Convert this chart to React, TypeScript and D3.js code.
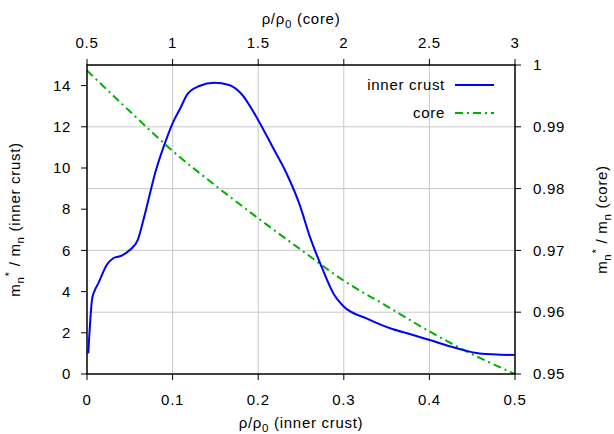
import React from "react";
import * as d3 from "d3";

const crustRho = [0.0015, 0.006, 0.009, 0.0132, 0.023, 0.0307, 0.0405, 0.05, 0.0592, 0.0669, 0.0806, 0.0903, 0.1, 0.109, 0.1175, 0.1312, 0.1486, 0.166, 0.1797, 0.201, 0.2167, 0.2322, 0.2486, 0.2603, 0.274, 0.2877, 0.2993, 0.3265, 0.3576, 0.377, 0.4003, 0.4352, 0.4586, 0.5];
const crustMass = [1.0, 3.65, 4.05, 4.4, 5.29, 5.62, 5.75, 6.02, 6.5, 7.64, 9.9, 11.12, 12.17, 12.9, 13.6, 13.98, 14.14, 14.03, 13.63, 12.25, 11.03, 9.82, 8.2, 6.67, 5.21, 3.92, 3.3, 2.7, 2.17, 1.94, 1.65, 1.21, 1.0, 0.92];

const coreRho = [0.5, 0.75, 1.0, 1.25, 1.5, 1.75, 2.0, 2.25, 2.5, 2.75, 3.0];
const coreMass = [0.9991, 0.9925, 0.9861, 0.9805, 0.9752, 0.9701, 0.9651, 0.961, 0.9569, 0.9532, 0.95];

const bottomTicks = [0, 0.1, 0.2, 0.3, 0.4, 0.5];
const topTicks = [0.5, 1, 1.5, 2, 2.5, 3];
const leftTicks = [0, 2, 4, 6, 8, 10, 12, 14];
const rightTicks = [0.95, 0.96, 0.97, 0.98, 0.99, 1];

const W = 614;
const H = 434;
const L = 87;
const R = 515;
const T = 65;
const B = 374;
const FONT = "'Liberation Sans', Arial, Helvetica, sans-serif";

export default function App() {
  const x = d3.scaleLinear().domain([0, 0.5]).range([L, R]);
  const x2 = d3.scaleLinear().domain([0.5, 3]).range([L, R]);
  const y = d3.scaleLinear().domain([0, 15]).range([B, T]);
  const y2 = d3.scaleLinear().domain([0.95, 1]).range([B, T]);

  const crustData = crustRho.map((r, i) => [r, crustMass[i]] as [number, number]);
  const coreData = coreRho.map((r, i) => [r, coreMass[i]] as [number, number]);

  const crustLine = d3
    .line<[number, number]>()
    .x((d) => x(d[0]))
    .y((d) => y(d[1]))
    .curve(d3.curveMonotoneX);
  const coreLine = d3
    .line<[number, number]>()
    .x((d) => x2(d[0]))
    .y((d) => y2(d[1]))
    .curve(d3.curveMonotoneX);

  const fmt = (v: number) => String(v);
  const fs = 15;
  const ls = 0.7;
  const sub = 11.5;

  return (
    <svg
      width={W}
      height={H}
      style={{ position: "absolute", left: 0, top: 0, background: "#fff" }}
      fontFamily={FONT}
      fontSize={fs}
      letterSpacing={ls}
    >
      <rect x={0} y={0} width={W} height={H} fill="#fff" />
      {/* grid */}
      <g stroke="#c8c8c8" strokeWidth={1}>
        {topTicks.slice(1, -1).map((t) => (
          <line key={"gx" + t} x1={x2(t)} x2={x2(t)} y1={T} y2={B} />
        ))}
        {rightTicks.slice(1, -1).map((t) => (
          <line key={"gy" + t} x1={L} x2={R} y1={y2(t)} y2={y2(t)} />
        ))}
      </g>
      {/* ticks */}
      <g stroke="#000" strokeWidth={1}>
        {bottomTicks.map((t) => (
          <line key={"bt" + t} x1={x(t)} x2={x(t)} y1={B} y2={B + 6} />
        ))}
        {topTicks.map((t) => (
          <line key={"tt" + t} x1={x2(t)} x2={x2(t)} y1={T} y2={T - 6} />
        ))}
        {leftTicks.map((t) => (
          <line key={"lt" + t} x1={L} x2={L - 6} y1={y(t)} y2={y(t)} />
        ))}
        {rightTicks.map((t) => (
          <line key={"rt" + t} x1={R} x2={R + 6} y1={y2(t)} y2={y2(t)} />
        ))}
      </g>
      {/* data */}
      <path d={coreLine(coreData) || ""} fill="none" stroke="#00b000" strokeWidth={2} strokeDasharray="8,4,2,4" />
      <path d={crustLine(crustData) || ""} fill="none" stroke="#0000ff" strokeWidth={2} />
      {/* border */}
      <rect x={L} y={T} width={R - L} height={B - T} fill="none" stroke="#000" strokeWidth={1.5} />
      {/* tick labels */}
      <g fill="#000">
        {bottomTicks.map((t) => (
          <text key={"bl" + t} x={x(t)} y={400} textAnchor="middle" dy="0.35em">
            {fmt(t)}
          </text>
        ))}
        {topTicks.map((t) => (
          <text key={"tl" + t} x={x2(t)} y={43} textAnchor="middle" dy="0.35em">
            {fmt(t)}
          </text>
        ))}
        {leftTicks.map((t) => (
          <text key={"ll" + t} x={71} y={y(t)} textAnchor="end" dy="0.35em">
            {fmt(t)}
          </text>
        ))}
        {rightTicks.map((t) => (
          <text key={"rl" + t} x={533} y={y2(t)} textAnchor="start" dy="0.35em">
            {fmt(t)}
          </text>
        ))}
      </g>
      {/* axis titles */}
      <text x={(L + R) / 2} y={428} textAnchor="middle">
        ρ/ρ<tspan dy={4} fontSize={sub}>0</tspan>
        <tspan dy={-4}> (inner crust)</tspan>
      </text>
      <text x={(L + R) / 2} y={24} textAnchor="middle">
        ρ/ρ<tspan dy={4} fontSize={sub}>0</tspan>
        <tspan dy={-4}> (core)</tspan>
      </text>
      <text transform={`translate(20,${(T + B) / 2}) rotate(-90)`} textAnchor="middle">
        m<tspan dy={4} fontSize={sub}>n</tspan>
        <tspan dy={-11} fontSize={sub}>*</tspan>
        <tspan dy={7}> / m</tspan>
        <tspan dy={4} fontSize={sub}>n</tspan>
        <tspan dy={-4}> (inner crust)</tspan>
      </text>
      <text transform={`translate(607,${(T + B) / 2}) rotate(-90)`} textAnchor="middle">
        m<tspan dy={4} fontSize={sub}>n</tspan>
        <tspan dy={-11} fontSize={sub}>*</tspan>
        <tspan dy={7}> / m</tspan>
        <tspan dy={4} fontSize={sub}>n</tspan>
        <tspan dy={-4}> (core)</tspan>
      </text>
      {/* legend */}
      <text x={445} y={85} textAnchor="end" dy="0.35em">
        inner crust
      </text>
      <line x1={455} x2={494} y1={85} y2={85} stroke="#0000ff" strokeWidth={2} />
      <text x={445} y={113} textAnchor="end" dy="0.35em">
        core
      </text>
      <line x1={455} x2={494} y1={113} y2={113} stroke="#00b000" strokeWidth={2} strokeDasharray="8,4,2,4" />
    </svg>
  );
}
